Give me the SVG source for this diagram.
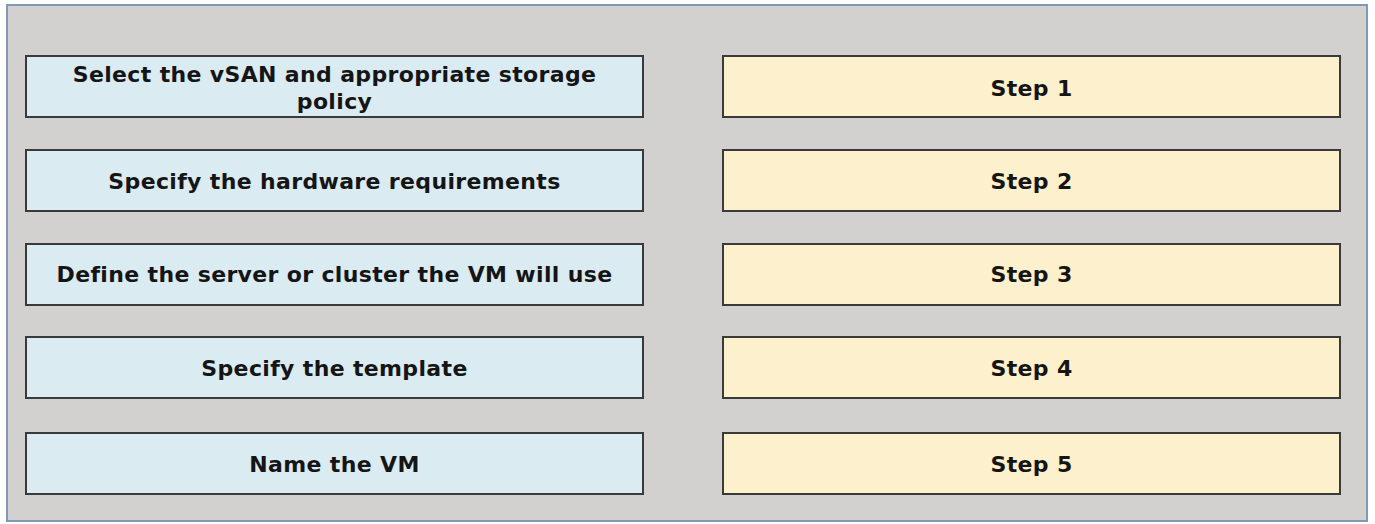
<svg xmlns="http://www.w3.org/2000/svg" width="1375" height="524" viewBox="0 0 1375 524">
<style>
.frame{fill:#d3d0d0;stroke:#7f9ab5;stroke-width:2}
.l{fill:#daebf1;stroke:#3a3a3a;stroke-width:2}
.r{fill:#fdf0cc;stroke:#3a3a3a;stroke-width:2}
text{font-family:"DejaVu Sans",Verdana,sans-serif;font-weight:bold;font-size:22px;letter-spacing:0.35px;fill:#151515;text-anchor:middle}
</style>
<rect class="frame" x="7" y="5" width="1360" height="516"/>
<g id="opt1"><rect class="l" x="26" y="56" width="617" height="61"/><text x="334.5" y="82">Select the vSAN and appropriate storage</text><text x="334.5" y="109">policy</text></g>
<g id="opt2"><rect class="l" x="26" y="150" width="617" height="61"/><text x="334.5" y="189">Specify the hardware requirements</text></g>
<g id="opt3"><rect class="l" x="26" y="244" width="617" height="61"/><text x="334.5" y="282">Define the server or cluster the VM will use</text></g>
<g id="opt4"><rect class="l" x="26" y="337" width="617" height="61"/><text x="334.5" y="376">Specify the template</text></g>
<g id="opt5"><rect class="l" x="26" y="433" width="617" height="61"/><text x="334.5" y="472">Name the VM</text></g>
<g id="step1"><rect class="r" x="723" y="56" width="617" height="61"/><text x="1031.5" y="96">Step 1</text></g>
<g id="step2"><rect class="r" x="723" y="150" width="617" height="61"/><text x="1031.5" y="189">Step 2</text></g>
<g id="step3"><rect class="r" x="723" y="244" width="617" height="61"/><text x="1031.5" y="282">Step 3</text></g>
<g id="step4"><rect class="r" x="723" y="337" width="617" height="61"/><text x="1031.5" y="376">Step 4</text></g>
<g id="step5"><rect class="r" x="723" y="433" width="617" height="61"/><text x="1031.5" y="472">Step 5</text></g>
<g id="connectors"></g>
</svg>
